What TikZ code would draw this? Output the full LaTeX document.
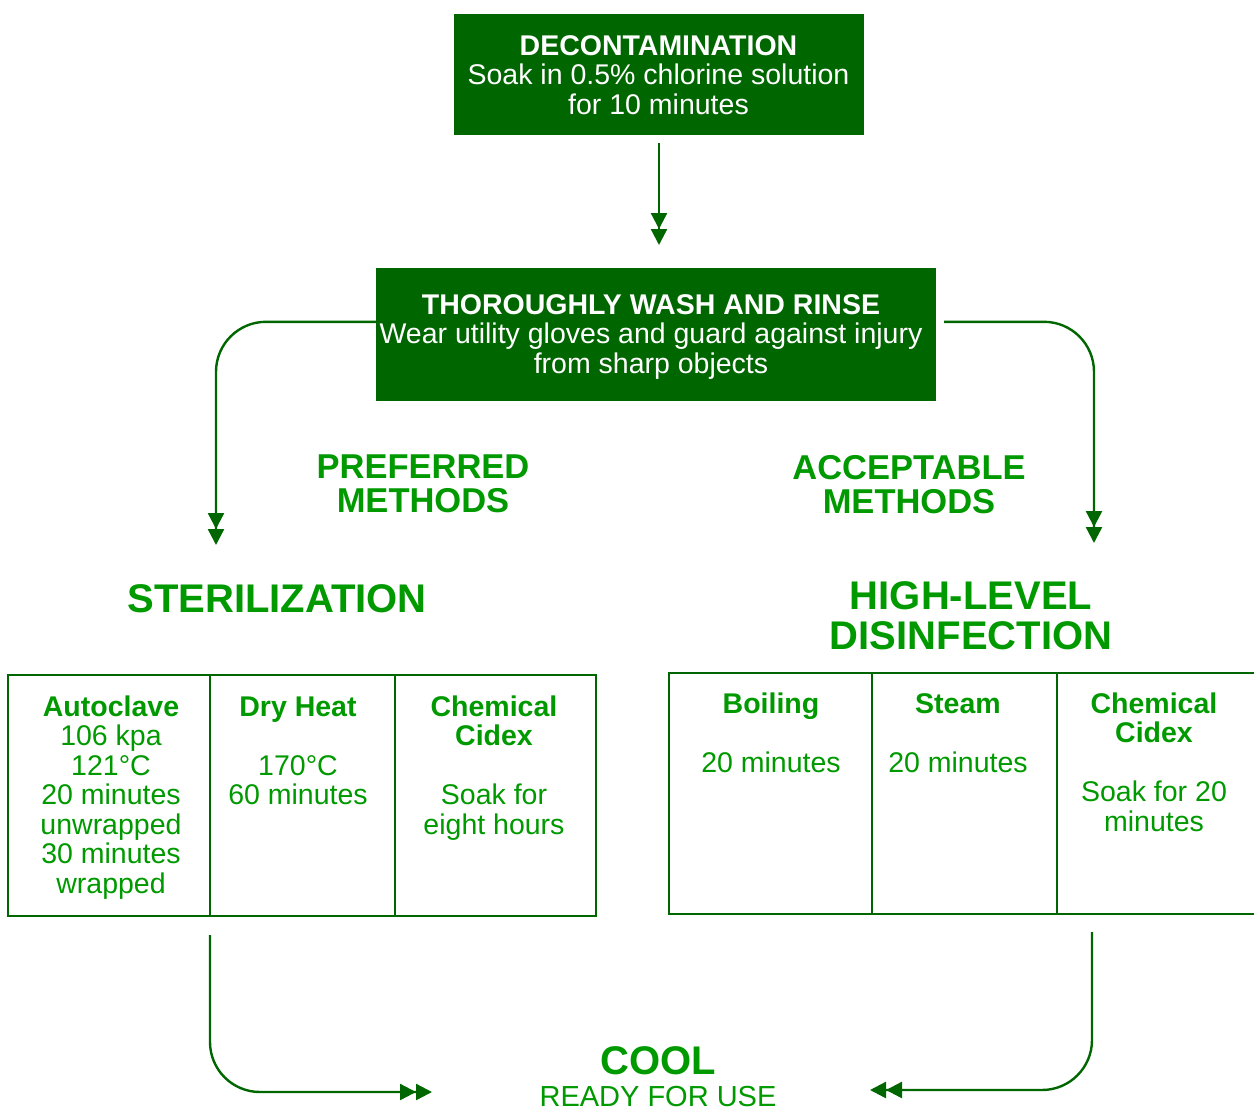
\documentclass[tikz,border=0pt]{standalone}
\usepackage{fontspec}
\setmainfont{Liberation Sans}
\usetikzlibrary{arrows.meta}
\definecolor{dkgreen}{HTML}{006600}
\definecolor{txtgreen}{HTML}{009900}
\newcommand{\mylines}[1]{\begin{tabular}[t]{@{}c@{}}#1\end{tabular}}
\tikzset{
  conn/.style={draw=dkgreen, line width=2.4pt, rounded corners=50pt,
    -{Triangle[length=16pt,width=16pt]Triangle[length=16pt,width=16pt]}},
  greenbox/.style={fill=dkgreen, draw=none, minimum width=#1, inner sep=0pt},
  wtxt/.style={text=white, anchor=base, inner sep=0pt, font=\fontsize{28.5}{29.8}\selectfont},
  gtxt/.style={text=txtgreen, anchor=base, inner sep=0pt, font=\fontsize{28.5}{29.5}\selectfont},
  head/.style={text=txtgreen, anchor=base, inner sep=0pt, font=\fontsize{34.5}{34}\selectfont\bfseries},
  big/.style={text=txtgreen, anchor=base, inner sep=0pt, font=\fontsize{40}{40}\selectfont\bfseries},
  tbl/.style={draw=dkgreen, line width=2.5pt},
}
\begin{document}
\begin{tikzpicture}[x=1pt,y=-1pt]
\useasboundingbox (0,0) rectangle (1254,1112);
% boxes
\node[greenbox=410pt, minimum height=121pt] (b1) at (659,74.5) {};
\node[wtxt] (t1) at (658.5,55) {\mylines{\bfseries DECONTAMINATION\\Soak in 0.5\% chlorine solution\\for 10 minutes}};
\node[greenbox=560pt, minimum height=133pt] (b2) at (656,334.5) {};
\node[wtxt] (t2) at (651,314) {\mylines{\bfseries THOROUGHLY WASH AND RINSE\\Wear utility gloves and guard against injury\\from sharp objects}};
% connectors top
\coordinate (a1end) at (659,245);
\draw[conn] ([yshift=-8pt]b1.south) -- (a1end);
\coordinate (lend) at (216,545);
\coordinate (rend) at (1094,543);
\draw[conn] ([yshift=-54pt]b2.north west) -| (lend);
\draw[conn] ([xshift=8pt,yshift=-54pt]b2.north east) -| (rend);
% headings
\node[head] (pref) at (423,478.5) {\mylines{PREFERRED\\METHODS}};
\node[head] (acc) at (909,479) {\mylines{ACCEPTABLE\\METHODS}};
\node[big] (ster) at (277,612) {STERILIZATION};
\node[big] (hld) at (971,609) {\mylines{HIGH-LEVEL\\DISINFECTION}};
% left table
\node[tbl, minimum width=588pt, minimum height=241pt, inner sep=0pt] (lt) at (302,795.5) {};
\draw[tbl] (210,675) -- (210,916);
\draw[tbl] (395,675) -- (395,916);
\node[gtxt] (c1) at (111,716) {\mylines{\bfseries Autoclave\\106 kpa\\121°C\\20 minutes\\unwrapped\\30 minutes\\wrapped}};
\node[gtxt] (c2) at (298,716) {\mylines{\bfseries Dry Heat\\ \\170°C\\60 minutes}};
\node[gtxt] (c3) at (494,716) {\mylines{\bfseries Chemical\\\bfseries Cidex\\ \\Soak for\\eight hours}};
% right table
\node[tbl, minimum width=592pt, minimum height=241pt, inner sep=0pt] (rt) at (965,793.5) {};
\draw[tbl] (872,673) -- (872,914);
\draw[tbl] (1057,673) -- (1057,914);
\node[gtxt] (c4) at (771,713) {\mylines{\bfseries Boiling\\ \\20 minutes}};
\node[gtxt] (c5) at (958,713) {\mylines{\bfseries Steam\\ \\20 minutes}};
\node[gtxt] (c6) at (1154,713) {\mylines{\bfseries Chemical\\\bfseries Cidex\\ \\Soak for 20\\minutes}};
% cool
\node[big] (cool) at (658,1074) {COOL};
\node[text=txtgreen, anchor=base, inner sep=0pt, font=\fontsize{29}{30}\selectfont] (ready) at (658,1106) {READY FOR USE};
% bottom connectors
\coordinate (bl) at (210,935);
\coordinate (blend) at (432,1092);
\coordinate (br) at (1092,932);
\coordinate (brend) at (870,1090);
\draw[conn] (bl) |- (blend);
\draw[conn] (br) |- (brend);
\end{tikzpicture}
\end{document}
